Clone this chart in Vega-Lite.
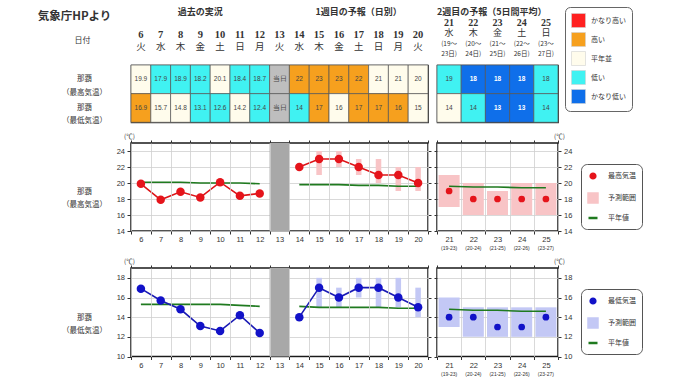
{
"$schema": "https://vega.github.io/schema/vega-lite/v6.json",
"autosize": {"type": "none"},
"padding": {"left": 131, "top": 0, "right": 549, "bottom": 382},
"background": "white",
"columns": 2,
"bounds": "flush",
"align": "each",
"spacing": {"row": 0, "column": 9},
"resolve": {"scale": {"x": "independent", "y": "independent", "color": "independent"}, "legend": {"color": "independent"}},
"config": {
  "font": "Noto Sans CJK JP",
  "view": {"stroke": null},
  "axis": {"labelFont": "Liberation Sans", "labelFontSize": 7.5, "labelColor": "#333", "domain": false, "tickColor": "#333", "gridColor": "#cfcfcf", "gridWidth": 0.8, "titleFont": "Noto Sans CJK JP", "labelOverlap": false, "labelFlush": false},
  "title": {"font": "Noto Sans CJK JP"},
  "legend": {"labelFont": "Noto Sans CJK JP"},
  "text": {"font": "Noto Sans CJK JP"}
},
"datasets": {
  "tbl": [
    {"day":6,"row":"那覇|（最高気温）","val":"19.9","cat":"平年並"},
    {"day":7,"row":"那覇|（最高気温）","val":"17.9","cat":"低い"},
    {"day":8,"row":"那覇|（最高気温）","val":"18.9","cat":"低い"},
    {"day":9,"row":"那覇|（最高気温）","val":"18.2","cat":"低い"},
    {"day":10,"row":"那覇|（最高気温）","val":"20.1","cat":"平年並"},
    {"day":11,"row":"那覇|（最高気温）","val":"18.4","cat":"低い"},
    {"day":12,"row":"那覇|（最高気温）","val":"18.7","cat":"低い"},
    {"day":13,"row":"那覇|（最高気温）","val":"当日","cat":"当日"},
    {"day":14,"row":"那覇|（最高気温）","val":"22","cat":"高い"},
    {"day":15,"row":"那覇|（最高気温）","val":"23","cat":"高い"},
    {"day":16,"row":"那覇|（最高気温）","val":"23","cat":"高い"},
    {"day":17,"row":"那覇|（最高気温）","val":"22","cat":"高い"},
    {"day":18,"row":"那覇|（最高気温）","val":"21","cat":"平年並"},
    {"day":19,"row":"那覇|（最高気温）","val":"21","cat":"平年並"},
    {"day":20,"row":"那覇|（最高気温）","val":"20","cat":"平年並"},
    {"day":21,"row":"那覇|（最高気温）","val":"19","cat":"低い"},
    {"day":22,"row":"那覇|（最高気温）","val":"18","cat":"かなり低い"},
    {"day":23,"row":"那覇|（最高気温）","val":"18","cat":"かなり低い"},
    {"day":24,"row":"那覇|（最高気温）","val":"18","cat":"かなり低い"},
    {"day":25,"row":"那覇|（最高気温）","val":"18","cat":"低い"},
    {"day":6,"row":"那覇|（最低気温）","val":"16.9","cat":"高い"},
    {"day":7,"row":"那覇|（最低気温）","val":"15.7","cat":"平年並"},
    {"day":8,"row":"那覇|（最低気温）","val":"14.8","cat":"平年並"},
    {"day":9,"row":"那覇|（最低気温）","val":"13.1","cat":"低い"},
    {"day":10,"row":"那覇|（最低気温）","val":"12.6","cat":"低い"},
    {"day":11,"row":"那覇|（最低気温）","val":"14.2","cat":"平年並"},
    {"day":12,"row":"那覇|（最低気温）","val":"12.4","cat":"低い"},
    {"day":13,"row":"那覇|（最低気温）","val":"当日","cat":"当日"},
    {"day":14,"row":"那覇|（最低気温）","val":"14","cat":"低い"},
    {"day":15,"row":"那覇|（最低気温）","val":"17","cat":"高い"},
    {"day":16,"row":"那覇|（最低気温）","val":"16","cat":"平年並"},
    {"day":17,"row":"那覇|（最低気温）","val":"17","cat":"高い"},
    {"day":18,"row":"那覇|（最低気温）","val":"17","cat":"高い"},
    {"day":19,"row":"那覇|（最低気温）","val":"16","cat":"高い"},
    {"day":20,"row":"那覇|（最低気温）","val":"15","cat":"平年並"},
    {"day":21,"row":"那覇|（最低気温）","val":"14","cat":"平年並"},
    {"day":22,"row":"那覇|（最低気温）","val":"14","cat":"低い"},
    {"day":23,"row":"那覇|（最低気温）","val":"13","cat":"かなり低い"},
    {"day":24,"row":"那覇|（最低気温）","val":"13","cat":"かなり低い"},
    {"day":25,"row":"那覇|（最低気温）","val":"14","cat":"低い"}
  ],
  "wk1": [
    {"day":6,"wd":"火"},{"day":7,"wd":"水"},{"day":8,"wd":"木"},{"day":9,"wd":"金"},{"day":10,"wd":"土"},
    {"day":11,"wd":"日"},{"day":12,"wd":"月"},{"day":13,"wd":"火"},{"day":14,"wd":"水"},{"day":15,"wd":"木"},
    {"day":16,"wd":"金"},{"day":17,"wd":"土"},{"day":18,"wd":"日"},{"day":19,"wd":"月"},{"day":20,"wd":"火"}
  ],
  "wk2": [
    {"day":21,"wd":"水","from":"(19～","to":"23日)"},
    {"day":22,"wd":"木","from":"(20～","to":"24日)"},
    {"day":23,"wd":"金","from":"(21～","to":"25日)"},
    {"day":24,"wd":"土","from":"(22～","to":"26日)"},
    {"day":25,"wd":"日","from":"(23～","to":"27日)"}
  ],
  "maxPts": [
    {"day":6,"t":19.9,"seg":"実況"},{"day":7,"t":17.9,"seg":"実況"},{"day":8,"t":18.9,"seg":"実況"},
    {"day":9,"t":18.2,"seg":"実況"},{"day":10,"t":20.1,"seg":"実況"},{"day":11,"t":18.4,"seg":"実況"},
    {"day":12,"t":18.7,"seg":"実況"},
    {"day":14,"t":22,"seg":"予報"},{"day":15,"t":23,"lo":21,"hi":24,"seg":"予報"},
    {"day":16,"t":23,"lo":22,"hi":24,"seg":"予報"},{"day":17,"t":22,"lo":21,"hi":23,"seg":"予報"},
    {"day":18,"t":21,"lo":20,"hi":23,"seg":"予報"},{"day":19,"t":21,"lo":19,"hi":22,"seg":"予報"},
    {"day":20,"t":20,"lo":19,"hi":22,"seg":"予報"}
  ],
  "maxNorm": [
    {"day":6,"t":20.1,"seg":"a"},{"day":7,"t":20.1,"seg":"a"},{"day":8,"t":20.1,"seg":"a"},{"day":9,"t":20.0,"seg":"a"},
    {"day":10,"t":20.0,"seg":"a"},{"day":11,"t":20.0,"seg":"a"},{"day":12,"t":19.9,"seg":"a"},
    {"day":14,"t":19.8,"seg":"b"},{"day":15,"t":19.8,"seg":"b"},{"day":16,"t":19.8,"seg":"b"},{"day":17,"t":19.7,"seg":"b"},
    {"day":18,"t":19.7,"seg":"b"},{"day":19,"t":19.6,"seg":"b"},{"day":20,"t":19.6,"seg":"b"}
  ],
  "maxW2": [
    {"day":21,"t":19,"lo":17,"hi":21,"norm":19.6},
    {"day":22,"t":18,"lo":16,"hi":20,"norm":19.5},
    {"day":23,"t":18,"lo":16,"hi":19,"norm":19.5},
    {"day":24,"t":18,"lo":16,"hi":20,"norm":19.4},
    {"day":25,"t":18,"lo":16,"hi":20,"norm":19.4}
  ],
  "minPts": [
    {"day":6,"t":16.9,"seg":"実況"},{"day":7,"t":15.7,"seg":"実況"},{"day":8,"t":14.8,"seg":"実況"},
    {"day":9,"t":13.1,"seg":"実況"},{"day":10,"t":12.6,"seg":"実況"},{"day":11,"t":14.2,"seg":"実況"},
    {"day":12,"t":12.4,"seg":"実況"},
    {"day":14,"t":14,"seg":"予報"},{"day":15,"t":17,"lo":15,"hi":18,"seg":"予報"},
    {"day":16,"t":16,"lo":15,"hi":17,"seg":"予報"},{"day":17,"t":17,"lo":16,"hi":18,"seg":"予報"},
    {"day":18,"t":17,"lo":15,"hi":18,"seg":"予報"},{"day":19,"t":16,"lo":15,"hi":18,"seg":"予報"},
    {"day":20,"t":15,"lo":14,"hi":17,"seg":"予報"}
  ],
  "minNorm": [
    {"day":6,"t":15.3,"seg":"a"},{"day":7,"t":15.3,"seg":"a"},{"day":8,"t":15.3,"seg":"a"},{"day":9,"t":15.3,"seg":"a"},
    {"day":10,"t":15.3,"seg":"a"},{"day":11,"t":15.2,"seg":"a"},{"day":12,"t":15.1,"seg":"a"},
    {"day":14,"t":15.1,"seg":"b"},{"day":15,"t":15.0,"seg":"b"},{"day":16,"t":15.0,"seg":"b"},{"day":17,"t":15.0,"seg":"b"},
    {"day":18,"t":15.0,"seg":"b"},{"day":19,"t":14.9,"seg":"b"},{"day":20,"t":14.9,"seg":"b"}
  ],
  "minW2": [
    {"day":21,"t":14,"lo":13,"hi":16,"norm":14.8},
    {"day":22,"t":14,"lo":12,"hi":15,"norm":14.7},
    {"day":23,"t":13,"lo":12,"hi":15,"norm":14.7},
    {"day":24,"t":13,"lo":12,"hi":15,"norm":14.6},
    {"day":25,"t":14,"lo":12,"hi":15,"norm":14.6}
  ]
},
"concat": [
  {
    "width": 297, "height": 65,
    "layer": [
      {
        "data": {"values": [{"x": 9, "text": "過去の実況"}, {"x": 17, "text": "1週目の予報（日別）"}]},
        "mark": {"type": "text", "fontSize": 9, "fontWeight": "bold", "color": "#333", "baseline": "middle"},
        "encoding": {
          "x": {"field": "x", "type": "quantitative", "scale": {"domain": [5.5, 20.5], "nice": false, "zero": false}, "axis": null},
          "y": {"datum": 0, "type": "quantitative", "scale": {"domain": [-1.026, 4.53], "reverse": true, "nice": false, "zero": false},
            "axis": {"values": [0.4, 2.45], "labelExpr": "datum.value < 1 ? '気象庁HPより' : '日付'", "ticks": false, "domain": false, "grid": false, "title": null, "labelPadding": 57, "labelFont": "Noto Sans CJK JP", "labelColor": "#333", "labelBaseline": "middle",
              "labelAlign": {"condition": {"test": "datum.value < 1", "value": "center"}, "value": "left"},
              "labelFontSize": {"condition": {"test": "datum.value < 1", "value": 11.5}, "value": 8},
              "labelFontWeight": {"condition": {"test": "datum.value < 1", "value": "bold"}, "value": "normal"}}},
          "text": {"field": "text"}
        }
      },
      {
        "data": {"name": "wk1"},
        "mark": {"type": "text", "font": "Liberation Serif", "fontSize": 10.5, "fontWeight": "bold", "color": "#333", "baseline": "middle"},
        "encoding": {
          "x": {"field": "day", "type": "quantitative", "axis": null},
          "y": {"datum": 2, "type": "quantitative"},
          "text": {"field": "day"}
        }
      },
      {
        "data": {"name": "wk1"},
        "mark": {"type": "text", "fontSize": 9.5, "color": "#333", "baseline": "middle"},
        "encoding": {
          "x": {"field": "day", "type": "quantitative", "axis": null},
          "y": {"datum": 3, "type": "quantitative"},
          "text": {"field": "wd"}
        }
      }
    ]
  },
  {
    "width": 121, "height": 65,
    "layer": [
      {
        "data": {"values": [{"x": 20.5, "text": "2週目の予報（5日間平均）"}]},
        "mark": {"type": "text", "fontSize": 9, "fontWeight": "bold", "color": "#333", "baseline": "middle", "align": "left"},
        "encoding": {
          "x": {"field": "x", "type": "quantitative", "scale": {"domain": [20.5, 25.5], "nice": false, "zero": false}, "axis": null},
          "y": {"datum": 0, "type": "quantitative", "scale": {"domain": [-1.132, 5.0], "reverse": true, "nice": false, "zero": false}, "axis": null},
          "text": {"field": "text"}
        }
      },
      {
        "data": {"name": "wk2"},
        "mark": {"type": "text", "font": "Liberation Serif", "fontSize": 10, "fontWeight": "bold", "color": "#333", "baseline": "middle"},
        "encoding": {"x": {"field": "day", "type": "quantitative", "axis": null}, "y": {"datum": 1, "type": "quantitative", "axis": null}, "text": {"field": "day"}}
      },
      {
        "data": {"name": "wk2"},
        "mark": {"type": "text", "fontSize": 9, "color": "#333", "baseline": "middle"},
        "encoding": {"x": {"field": "day", "type": "quantitative", "axis": null}, "y": {"datum": 2, "type": "quantitative", "axis": null}, "text": {"field": "wd"}}
      },
      {
        "data": {"name": "wk2"},
        "mark": {"type": "text", "fontSize": 6.5, "color": "#333", "baseline": "middle"},
        "encoding": {"x": {"field": "day", "type": "quantitative", "axis": null}, "y": {"datum": 3, "type": "quantitative", "axis": null}, "text": {"field": "from"}}
      },
      {
        "data": {"name": "wk2"},
        "mark": {"type": "text", "fontSize": 6.5, "color": "#333", "baseline": "middle"},
        "encoding": {"x": {"field": "day", "type": "quantitative", "axis": null}, "y": {"datum": 4, "type": "quantitative", "axis": null}, "text": {"field": "to"}}
      }
    ]
  },
  {
    "width": 297, "height": 57.3,
    "view": {"stroke": "#333", "strokeWidth": 1.2},
    "data": {"name": "tbl"},
    "transform": [{"filter": "datum.day <= 20"}],
    "encoding": {
      "x": {"field": "day", "type": "ordinal", "scale": {"domain": [6,7,8,9,10,11,12,13,14,15,16,17,18,19,20], "paddingInner": 0, "paddingOuter": 0}, "axis": null},
      "y": {"field": "row", "type": "nominal", "scale": {"domain": ["那覇|（最高気温）", "那覇|（最低気温）"], "paddingInner": 0, "paddingOuter": 0},
        "axis": {"labelExpr": "split(datum.value, '|')", "ticks": false, "domain": false, "title": null, "labelAlign": "center", "labelBaseline": "middle", "labelPadding": 47, "labelLineHeight": 13.5, "labelFont": "Noto Sans CJK JP", "labelFontSize": 7.5, "labelColor": "#333"}}
    },
    "layer": [
      {
        "mark": {"type": "rect", "stroke": "#555", "strokeWidth": 0.7},
        "encoding": {"color": {"field": "cat", "type": "nominal", "scale": {"domain": ["かなり高い", "高い", "平年並", "低い", "かなり低い", "当日"], "range": ["#FF2020", "#F6A01E", "#FFFCEC", "#40F2F2", "#0F6FEA", "#BEBEBE"]}, "legend": null}}
      },
      {
        "transform": [{"filter": "datum.cat !== 'かなり低い'"}],
        "mark": {"type": "text", "font": "Liberation Sans", "fontSize": 6.5, "color": "#444"},
        "encoding": {"text": {"field": "val"}}
      },
      {
        "transform": [{"filter": "datum.cat === 'かなり低い'"}],
        "mark": {"type": "text", "font": "Liberation Sans", "fontSize": 6.5, "fontWeight": "bold", "color": "white"},
        "encoding": {"text": {"field": "val"}}
      }
    ]
  },
  {
    "width": 121, "height": 57.3,
    "view": {"stroke": "#333", "strokeWidth": 1.2},
    "data": {"name": "tbl"},
    "transform": [{"filter": "datum.day >= 21"}],
    "encoding": {
      "x": {"field": "day", "type": "ordinal", "scale": {"domain": [21,22,23,24,25], "paddingInner": 0, "paddingOuter": 0}, "axis": null},
      "y": {"field": "row", "type": "nominal", "scale": {"domain": ["那覇|（最高気温）", "那覇|（最低気温）"], "paddingInner": 0, "paddingOuter": 0}, "axis": null}
    },
    "layer": [
      {
        "mark": {"type": "rect", "stroke": "#555", "strokeWidth": 0.7},
        "encoding": {"color": {"field": "cat", "type": "nominal", "scale": {"domain": ["かなり高い", "高い", "平年並", "低い", "かなり低い"], "range": ["#FF2020", "#F6A01E", "#FFFCEC", "#40F2F2", "#0F6FEA"]},
          "legend": {"orient": "none", "legendX": 128, "legendY": -58, "title": null, "symbolType": "square", "symbolSize": 196, "symbolStrokeWidth": 0.6, "symbolStrokeColor": "#d0d0d0", "symbolOpacity": 1, "labelFontSize": 7, "labelColor": "#333", "labelOffset": 5, "padding": 6, "rowPadding": 2, "strokeColor": "#666", "cornerRadius": 5, "fillColor": "white"}}}
      },
      {
        "transform": [{"filter": "datum.cat !== 'かなり低い'"}],
        "mark": {"type": "text", "font": "Liberation Sans", "fontSize": 6.5, "color": "#444"},
        "encoding": {"text": {"field": "val"}}
      },
      {
        "transform": [{"filter": "datum.cat === 'かなり低い'"}],
        "mark": {"type": "text", "font": "Liberation Sans", "fontSize": 6.5, "fontWeight": "bold", "color": "white"},
        "encoding": {"text": {"field": "val"}}
      }
    ]
  },
  {"width": 1, "height": 19.4, "data": {"values": [{"t": ""}]}, "mark": "text", "encoding": {"text": {"field": "t"}}},
  {"width": 1, "height": 19.4, "data": {"values": [{"t": ""}]}, "mark": "text", "encoding": {"text": {"field": "t"}}},
  {
    "width": 297, "height": 88,
    "view": {"stroke": "#1a1a1a", "strokeWidth": 1.5},
    "title": {"text": "(℃)", "anchor": "start", "frame": "group", "dx": -7, "offset": -1, "fontSize": 6.5, "fontWeight": "normal", "color": "#333"},
    "resolve": {"axis": {"x": "independent", "y": "independent"}},
    "layer": [
      {
        "data": {"values": [{"day": 13}]},
        "mark": {"type": "rect", "color": "#A8A8A8"},
        "encoding": {
          "x": {"field": "day", "type": "ordinal", "scale": {"domain": [6,7,8,9,10,11,12,13,14,15,16,17,18,19,20], "paddingInner": 0, "paddingOuter": 0},
            "axis": {"orient": "bottom", "tickBand": "extent", "grid": true, "labelAngle": 0, "title": null, "tickSize": 3, "labelPadding": 1.5}},
          "y": {"datum": 25, "type": "quantitative", "scale": {"domain": [14, 25], "nice": false, "zero": false},
            "axis": {"values": [14,16,18,20,22,24], "grid": true, "tickSize": 4, "labelPadding": 2.5, "title": ["那覇", "（最高気温）"], "titleAngle": 0, "titleAlign": "center", "titleBaseline": "middle", "titleX": -47, "titleY": 48, "titleFontSize": 7.5, "titleFontWeight": "normal", "titleColor": "#333", "titleLineHeight": 13.5}},
          "y2": {"datum": 14}
        }
      },
      {
        "data": {"name": "maxPts"},
        "transform": [{"filter": "isValid(datum.lo)"}],
        "mark": {"type": "bar", "color": "#F8C4C6", "width": {"band": 0.28}},
        "encoding": {
          "x": {"field": "day", "type": "ordinal", "axis": {"orient": "top", "labels": false, "tickBand": "extent", "grid": false, "title": null, "tickSize": 3}},
          "y": {"field": "lo", "type": "quantitative", "axis": {"orient": "right", "labels": false, "grid": false, "values": [14,16,18,20,22,24], "tickSize": 3, "title": null}},
          "y2": {"field": "hi"}
        }
      },
      {
        "data": {"name": "maxNorm"},
        "mark": {"type": "line", "color": "#1F7A1F", "strokeWidth": 1.6},
        "encoding": {
          "x": {"field": "day", "type": "ordinal", "axis": null},
          "y": {"field": "t", "type": "quantitative", "axis": null},
          "detail": {"field": "seg"}
        }
      },
      {
        "data": {"name": "maxPts"},
        "mark": {"type": "line", "color": "#DD1418", "strokeWidth": 1.6, "point": {"filled": true, "size": 72, "color": "#E5141B", "opacity": 1}},
        "encoding": {
          "x": {"field": "day", "type": "ordinal", "axis": null},
          "y": {"field": "t", "type": "quantitative", "axis": null},
          "detail": {"field": "seg"}
        }
      }
    ]
  },
  {
    "width": 121, "height": 88,
    "view": {"stroke": "#1a1a1a", "strokeWidth": 1.5},
    "title": {"text": "(℃)", "anchor": "end", "frame": "group", "dx": 7, "offset": -1, "fontSize": 6.5, "fontWeight": "normal", "color": "#333"},
    "data": {"name": "maxW2"},
    "resolve": {"axis": {"x": "independent", "y": "independent"}},
    "layer": [
      {
        "mark": {"type": "bar", "width": {"band": 0.87}, "opacity": 1},
        "encoding": {
          "x": {"field": "day", "type": "ordinal", "scale": {"domain": [21,22,23,24,25], "paddingInner": 0, "paddingOuter": 0},
            "axis": {"orient": "bottom", "tickBand": "extent", "grid": true, "labelAngle": 0, "title": null, "tickSize": 3, "labelPadding": 1.5}},
          "y": {"field": "lo", "type": "quantitative", "scale": {"domain": [14, 25], "nice": false, "zero": false},
            "axis": {"orient": "right", "values": [14,16,18,20,22,24], "grid": true, "title": null, "tickSize": 3, "labelPadding": 2.5}},
          "y2": {"field": "hi"},
          "color": {"datum": "予測範囲", "type": "nominal", "scale": {"domain": ["最高気温", "予測範囲", "平年値"], "range": ["#E5141B", "#F8C4C6", "#1F7A1F"]},
            "legend": {"orient": "none", "legendX": 144, "legendY": 21, "title": null, "padding": 6, "rowPadding": 4, "labelOffset": 9, "labelFontSize": 7, "labelColor": "#333", "strokeColor": "#555", "cornerRadius": 6, "fillColor": "white",
              "symbolSize": {"expr": "datum.value === '最高気温' ? 22 : 81"},
              "symbolType": {"expr": "datum.value === '平年値' ? 'stroke' : datum.value === '予測範囲' ? 'square' : 'circle'"},
              "symbolStrokeWidth": 2.5, "symbolOpacity": 1}}
        }
      },
      {
        "mark": {"type": "line", "strokeWidth": 1.6},
        "encoding": {
          "x": {"field": "day", "type": "ordinal", "axis": {"orient": "bottom", "labelExpr": "'(' + (datum.value - 2) + '-' + (datum.value + 2) + ')'", "ticks": false, "grid": false, "labelFontSize": 5, "labelPadding": 14.5, "title": null, "labelAngle": 0}},
          "y": {"field": "norm", "type": "quantitative", "axis": {"orient": "left", "labels": false, "grid": false, "tickSize": 3, "values": [14,16,18,20,22,24], "title": null}},
          "color": {"datum": "平年値", "type": "nominal"}
        }
      },
      {
        "mark": {"type": "point", "filled": true, "size": 45, "opacity": 1},
        "encoding": {
          "x": {"field": "day", "type": "ordinal", "axis": {"orient": "top", "labels": false, "tickBand": "extent", "grid": false, "title": null, "tickSize": 3}},
          "y": {"field": "t", "type": "quantitative", "axis": null},
          "color": {"datum": "最高気温", "type": "nominal"}
        }
      }
    ]
  },
  {"width": 1, "height": 36.7, "data": {"values": [{"t": ""}]}, "mark": "text", "encoding": {"text": {"field": "t"}}},
  {"width": 1, "height": 36.7, "data": {"values": [{"t": ""}]}, "mark": "text", "encoding": {"text": {"field": "t"}}},
  {
    "width": 297, "height": 88.5,
    "view": {"stroke": "#1a1a1a", "strokeWidth": 1.5},
    "title": {"text": "(℃)", "anchor": "start", "frame": "group", "dx": -7, "offset": -1, "fontSize": 6.5, "fontWeight": "normal", "color": "#333"},
    "resolve": {"axis": {"x": "independent", "y": "independent"}},
    "layer": [
      {
        "data": {"values": [{"day": 13}]},
        "mark": {"type": "rect", "color": "#A8A8A8"},
        "encoding": {
          "x": {"field": "day", "type": "ordinal", "scale": {"domain": [6,7,8,9,10,11,12,13,14,15,16,17,18,19,20], "paddingInner": 0, "paddingOuter": 0},
            "axis": {"orient": "bottom", "tickBand": "extent", "grid": true, "labelAngle": 0, "title": null, "tickSize": 3, "labelPadding": 1.5}},
          "y": {"datum": 19, "type": "quantitative", "scale": {"domain": [10, 19], "nice": false, "zero": false},
            "axis": {"values": [10,12,14,16,18], "grid": true, "tickSize": 4, "labelPadding": 2.5, "title": ["那覇", "（最低気温）"], "titleAngle": 0, "titleAlign": "center", "titleBaseline": "middle", "titleX": -47, "titleY": 49, "titleFontSize": 7.5, "titleFontWeight": "normal", "titleColor": "#333", "titleLineHeight": 13.5}},
          "y2": {"datum": 10}
        }
      },
      {
        "data": {"name": "minPts"},
        "transform": [{"filter": "isValid(datum.lo)"}],
        "mark": {"type": "bar", "color": "#C3C8F5", "width": {"band": 0.28}},
        "encoding": {
          "x": {"field": "day", "type": "ordinal", "axis": {"orient": "top", "labels": false, "tickBand": "extent", "grid": false, "title": null, "tickSize": 3}},
          "y": {"field": "lo", "type": "quantitative", "axis": {"orient": "right", "labels": false, "grid": false, "values": [10,12,14,16,18], "tickSize": 3, "title": null}},
          "y2": {"field": "hi"}
        }
      },
      {
        "data": {"name": "minNorm"},
        "mark": {"type": "line", "color": "#1F7A1F", "strokeWidth": 1.6},
        "encoding": {
          "x": {"field": "day", "type": "ordinal", "axis": null},
          "y": {"field": "t", "type": "quantitative", "axis": null},
          "detail": {"field": "seg"}
        }
      },
      {
        "data": {"name": "minPts"},
        "mark": {"type": "line", "color": "#1A1AB4", "strokeWidth": 1.6, "point": {"filled": true, "size": 72, "color": "#1212C8", "opacity": 1}},
        "encoding": {
          "x": {"field": "day", "type": "ordinal", "axis": null},
          "y": {"field": "t", "type": "quantitative", "axis": null},
          "detail": {"field": "seg"}
        }
      }
    ]
  },
  {
    "width": 121, "height": 88.5,
    "view": {"stroke": "#1a1a1a", "strokeWidth": 1.5},
    "title": {"text": "(℃)", "anchor": "end", "frame": "group", "dx": 7, "offset": -1, "fontSize": 6.5, "fontWeight": "normal", "color": "#333"},
    "data": {"name": "minW2"},
    "resolve": {"axis": {"x": "independent", "y": "independent"}},
    "layer": [
      {
        "mark": {"type": "bar", "width": {"band": 0.87}, "opacity": 1},
        "encoding": {
          "x": {"field": "day", "type": "ordinal", "scale": {"domain": [21,22,23,24,25], "paddingInner": 0, "paddingOuter": 0},
            "axis": {"orient": "bottom", "tickBand": "extent", "grid": true, "labelAngle": 0, "title": null, "tickSize": 3, "labelPadding": 1.5}},
          "y": {"field": "lo", "type": "quantitative", "scale": {"domain": [10, 19], "nice": false, "zero": false},
            "axis": {"orient": "right", "values": [10,12,14,16,18], "grid": true, "title": null, "tickSize": 3, "labelPadding": 2.5}},
          "y2": {"field": "hi"},
          "color": {"datum": "予測範囲", "type": "nominal", "scale": {"domain": ["最低気温", "予測範囲", "平年値"], "range": ["#1212C8", "#C3C8F5", "#1F7A1F"]},
            "legend": {"orient": "none", "legendX": 144, "legendY": 21, "title": null, "padding": 6, "rowPadding": 4, "labelOffset": 9, "labelFontSize": 7, "labelColor": "#333", "strokeColor": "#555", "cornerRadius": 6, "fillColor": "white",
              "symbolSize": {"expr": "datum.value === '最低気温' ? 22 : 81"},
              "symbolType": {"expr": "datum.value === '平年値' ? 'stroke' : datum.value === '予測範囲' ? 'square' : 'circle'"},
              "symbolStrokeWidth": 2.5, "symbolOpacity": 1}}
        }
      },
      {
        "mark": {"type": "line", "strokeWidth": 1.6},
        "encoding": {
          "x": {"field": "day", "type": "ordinal", "axis": {"orient": "bottom", "labelExpr": "'(' + (datum.value - 2) + '-' + (datum.value + 2) + ')'", "ticks": false, "grid": false, "labelFontSize": 5, "labelPadding": 14.5, "title": null, "labelAngle": 0}},
          "y": {"field": "norm", "type": "quantitative", "axis": {"orient": "left", "labels": false, "grid": false, "tickSize": 3, "values": [10,12,14,16,18], "title": null}},
          "color": {"datum": "平年値", "type": "nominal"}
        }
      },
      {
        "mark": {"type": "point", "filled": true, "size": 45, "opacity": 1},
        "encoding": {
          "x": {"field": "day", "type": "ordinal", "axis": {"orient": "top", "labels": false, "tickBand": "extent", "grid": false, "title": null, "tickSize": 3}},
          "y": {"field": "t", "type": "quantitative", "axis": null},
          "color": {"datum": "最低気温", "type": "nominal"}
        }
      }
    ]
  }
]
}
